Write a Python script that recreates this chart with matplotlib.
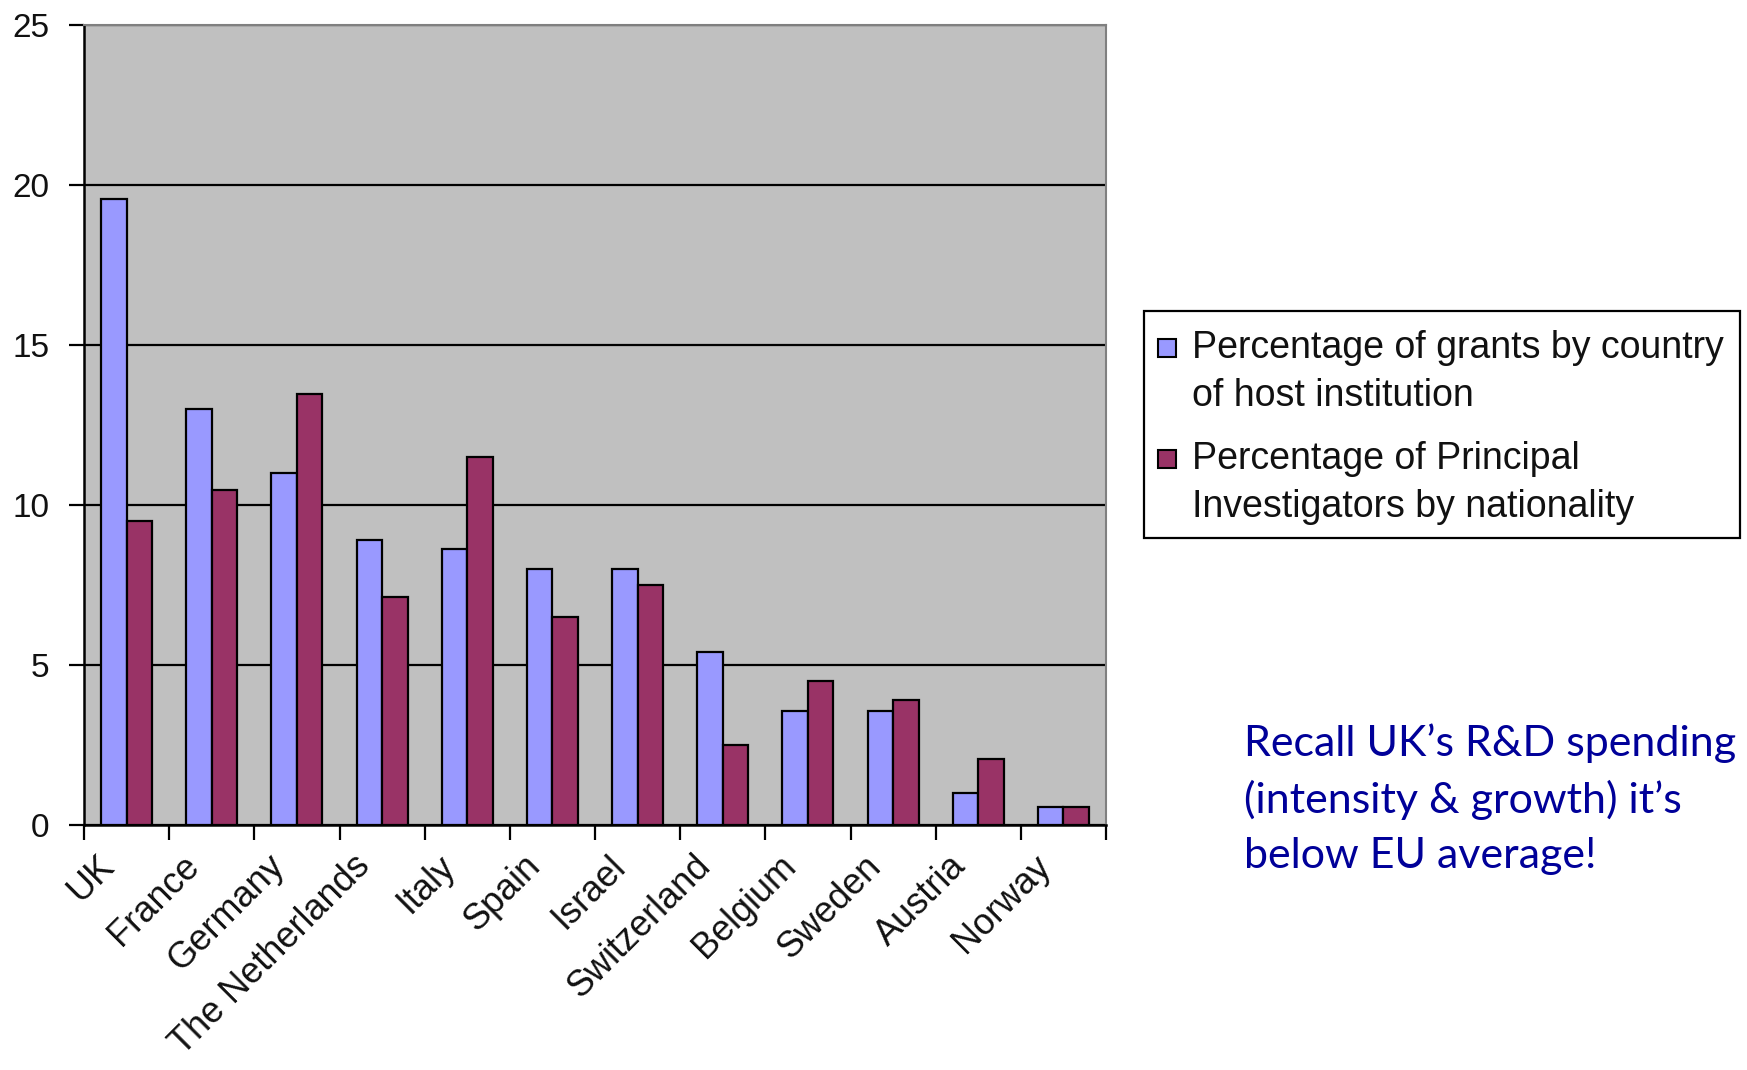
import numpy as np
import matplotlib.pyplot as plt
from matplotlib.patches import Rectangle
from matplotlib.transforms import ScaledTranslation

# Share of grants vs. share of PIs, by country
countries = ['UK', 'France', 'Germany', 'The Netherlands', 'Italy', 'Spain',
             'Israel', 'Switzerland', 'Belgium', 'Sweden', 'Austria', 'Norway']
host_pct = [19.55, 13.0, 11.0, 8.9, 8.6, 8.0, 8.0, 5.4, 3.55, 3.55, 1.0, 0.55]
pi_pct = [9.5, 10.45, 13.45, 7.1, 11.5, 6.5, 7.5, 2.5, 4.5, 3.9, 2.05, 0.55]

host_label = ['Percentage of grants by country', 'of host institution']
pi_label = ['Percentage of Principal', 'Investigators by nationality']
host_color = '#9999FF'
pi_color = '#993366'
note = 'Recall UK\u2019s R&D spending\n(intensity & growth) it\u2019s\nbelow EU average!'

plt.rcParams['font.family'] = ['Liberation Sans', 'DejaVu Sans']

W, H = 1747, 1070
fig = plt.figure(figsize=(W / 100, H / 100), dpi=100)
ax = fig.add_axes([0.0481, 0.2294, 0.585, 0.7477])
ax.set_facecolor('#C0C0C0')

x = np.arange(len(countries))
w = 0.3
ax.bar(x - w / 2, host_pct, w, color=host_color, edgecolor='black',
       linewidth=1.6, zorder=3)
ax.bar(x + w / 2, pi_pct, w, color=pi_color, edgecolor='black',
       linewidth=1.6, zorder=3)

ax.set_xlim(-0.5, len(countries) - 0.5)
ax.set_ylim(0, 25)
ax.set_yticks([0, 5, 10, 15, 20, 25])
ax.yaxis.grid(True, color='black', linewidth=1.6, zorder=1)
ax.set_axisbelow(True)

# category labels at centres, tick marks on the boundaries
ax.set_xticks(x)
ax.set_xticklabels(countries, rotation=45, ha='right', va='top',
                   rotation_mode='anchor')
ax.tick_params(axis='x', which='major', length=0, pad=20, labelsize=26,
               labelcolor='#111111')
shift = ScaledTranslation(-30 / 100, 4 / 100, fig.dpi_scale_trans)
for lbl in ax.get_xticklabels():
    lbl.set_transform(lbl.get_transform() + shift)
ax.set_xticks(np.arange(-0.5, len(countries)), minor=True)
ax.tick_params(axis='x', which='minor', length=11, width=1.6, color='black')
ax.tick_params(axis='y', length=11, width=1.6, pad=14, labelsize=24,
               labelcolor='#111111')

for side in ['left', 'bottom']:
    ax.spines[side].set_color('black')
    ax.spines[side].set_linewidth(1.8)
for side in ['top', 'right']:
    ax.spines[side].set_color('#808080')
    ax.spines[side].set_linewidth(1.5)

# legend box, drawn in figure pixels
def fx(px):
    return px / W


def fy(py):
    return 1 - py / H


fig.add_artist(Rectangle((fx(1144), fy(538)), fx(1740) - fx(1144),
                         fy(311) - fy(538), transform=fig.transFigure,
                         facecolor='white', edgecolor='black', linewidth=1.6))
entries = [(host_color, host_label, 348), (pi_color, pi_label, 459)]
for color, lines, y0 in entries:
    fig.add_artist(Rectangle((fx(1158), fy(y0 + 9)), fx(18), 18 / H,
                             transform=fig.transFigure, facecolor=color,
                             edgecolor='black', linewidth=1.5))
    for i, line in enumerate(lines):
        fig.text(fx(1192), fy(y0 + i * 48), line, fontsize=27,
                 color='#111111', ha='left', va='center')

fig.text(fx(1244), fy(723), note, family=['Lato', 'DejaVu Sans'],
         fontsize=31, color='#000099', ha='left', va='top', linespacing=1.53)

fig.savefig('out.png', dpi=100)
